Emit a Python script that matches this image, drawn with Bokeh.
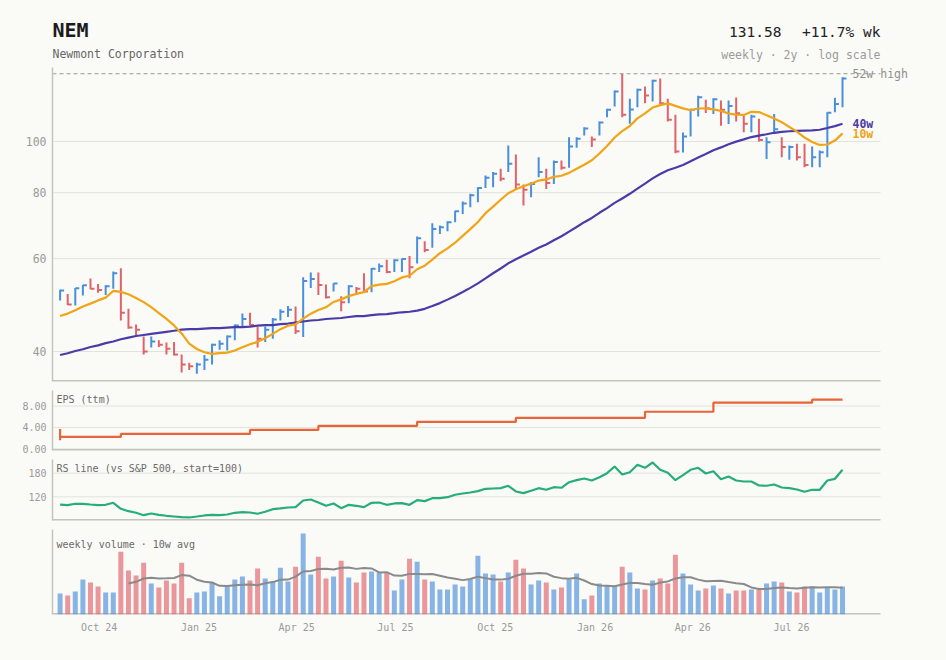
import numpy as np
import pandas as pd
from bokeh.plotting import figure
from bokeh.layouts import column
from bokeh.models import (Range1d, FixedTicker, PrintfTickFormatter, Label,
                          DatetimeTickFormatter, ColumnDataSource)
from bokeh.embed import file_html
from bokeh.resources import INLINE

# ---------------- data ----------------
ticker = "NEM"
company = "Newmont Corporation"
start_week = "2024-08-26"
n_weeks = 104

highs = [52.4, 51.4, 52.8, 53.5, 55.0, 53.7, 53.4, 56.7, 57.5, 48.2,
         45.0, 42.7, 42.7, 42.0, 41.6, 41.7, 39.5, 38.1, 38.1, 39.4,
         41.4, 42.0, 42.9, 45.0, 47.2, 47.4, 44.5, 44.6, 46.3, 48.1,
         48.8, 48.7, 55.3, 56.5, 56.5, 53.6, 53.9, 50.9, 53.4, 53.0,
         56.3, 57.6, 58.7, 59.7, 59.8, 60.0, 60.7, 66.1, 64.7, 70.0,
         69.3, 70.6, 73.9, 77.0, 79.6, 81.9, 86.2, 87.5, 88.8, 98.3,
         94.5, 82.9, 83.7, 93.4, 88.8, 92.0, 92.0, 101.9, 101.9, 106.4,
         102.2, 109.1, 115.3, 124.9, 134.4, 120.5, 125.9, 127.1, 130.9, 131.6,
         120.5, 112.4, 104.0, 115.3, 122.1, 120.0, 120.8, 119.6, 119.6, 121.2,
         111.9, 112.4, 110.4, 101.9, 112.7, 101.9, 98.3, 99.0, 99.0, 97.8,
         96.1, 113.6, 121.0, 132.4]
lows = [50.0, 49.0, 48.9, 51.1, 52.5, 51.7, 51.2, 52.6, 45.8, 44.2,
        42.9, 39.5, 40.7, 40.8, 39.5, 39.3, 36.5, 36.9, 36.3, 36.9,
        37.8, 40.3, 40.2, 42.0, 44.7, 44.8, 40.7, 41.7, 42.3, 45.8,
        46.5, 43.2, 42.6, 52.8, 51.2, 50.4, 52.0, 47.7, 49.4, 51.3,
        51.8, 51.8, 56.6, 56.3, 56.6, 56.6, 55.1, 58.7, 61.7, 62.9,
        66.8, 67.6, 70.3, 72.9, 75.1, 76.7, 81.6, 81.9, 84.1, 87.5,
        81.3, 75.6, 78.4, 85.6, 81.3, 83.1, 88.4, 89.2, 97.3, 102.7,
        97.6, 102.7, 111.2, 116.5, 111.2, 108.0, 116.1, 118.2, 119.1, 117.7,
        109.1, 95.0, 95.3, 102.2, 111.5, 113.2, 112.7, 107.1, 107.9, 109.1,
        104.1, 104.1, 100.0, 92.6, 103.7, 93.4, 92.3, 92.0, 89.4, 89.4,
        89.4, 93.4, 113.6, 116.1]
closes = [52.2, 49.1, 52.7, 53.4, 52.6, 52.3, 53.2, 56.3, 47.4, 44.4,
          44.0, 40.0, 41.8, 41.2, 40.5, 39.5, 37.8, 37.5, 37.8, 38.6,
          41.2, 41.4, 42.7, 44.8, 46.1, 44.9, 42.3, 44.0, 46.0, 47.6,
          48.0, 43.7, 54.4, 54.9, 53.5, 50.7, 53.8, 49.6, 53.2, 52.6,
          52.0, 57.4, 58.0, 56.6, 59.6, 59.9, 57.8, 65.6, 62.3, 68.3,
          68.8, 70.3, 73.8, 76.3, 79.1, 81.6, 85.4, 86.9, 85.0, 90.7,
          82.9, 81.0, 83.1, 87.5, 83.4, 91.4, 89.2, 97.8, 101.2, 105.8,
          100.9, 108.6, 114.8, 124.4, 112.4, 115.0, 125.3, 122.2, 130.3, 118.2,
          109.9, 95.7, 102.2, 114.8, 121.3, 115.6, 120.3, 114.8, 116.8, 113.1,
          108.0, 111.5, 100.7, 99.7, 105.5, 97.6, 97.6, 93.4, 90.3, 93.4,
          95.4, 113.3, 117.8, 131.58]
# 1 = up week (blue), 0 = down week (red)
up_week = [1, 0, 1, 1, 0, 0, 1, 1, 0, 0,
           0, 0, 1, 0, 0, 0, 0, 0, 1, 1,
           1, 1, 1, 1, 1, 0, 0, 1, 1, 1,
           1, 0, 1, 1, 0, 0, 1, 0, 1, 0,
           0, 1, 1, 0, 1, 1, 0, 1, 0, 1,
           1, 1, 1, 1, 1, 1, 1, 1, 0, 1,
           0, 0, 1, 1, 0, 1, 0, 1, 1, 1,
           0, 1, 1, 1, 0, 1, 1, 0, 1, 0,
           0, 0, 1, 1, 1, 0, 1, 0, 1, 0,
           0, 1, 0, 1, 1, 0, 1, 0, 0, 1,
           1, 1, 1, 1]
# moving-average values for the first weeks (window reaches before the chart)
ma10_head = [46.7, 47.2, 47.9, 48.7, 49.3, 50.0, 50.6, 52.1, 51.9]
ma40_head = [39.4, 39.7, 40.1, 40.4, 40.8, 41.1, 41.5, 41.8, 42.2, 42.5,
             42.8, 43.0, 43.2, 43.4, 43.6, 43.8, 44.0, 44.1, 44.1, 44.2,
             44.3, 44.3, 44.4, 44.5, 44.5, 44.6, 44.8, 44.9, 44.9, 45.1,
             45.2, 45.4, 45.6, 45.8, 45.9, 46.1, 46.2, 46.3, 46.5]
rs_line = [100.0, 98.7, 102.2, 102.2, 100.4, 98.7, 99.6, 104.7, 89.5, 83.4,
           79.3, 73.2, 77.5, 74.2, 71.7, 69.9, 68.1, 67.4, 69.9, 72.5,
           74.2, 73.4, 75.0, 79.3, 80.8, 80.0, 76.8, 81.8, 88.5, 90.3,
           92.8, 93.6, 110.6, 113.1, 105.5, 97.1, 103.0, 91.0, 99.6, 97.1,
           93.6, 104.7, 105.5, 99.6, 103.0, 103.8, 99.6, 111.4, 108.9, 116.4,
           116.4, 119.0, 125.1, 128.4, 130.9, 134.3, 140.3, 141.1, 141.9, 148.0,
           133.5, 129.2, 135.2, 141.9, 137.8, 144.4, 142.9, 157.1, 162.2, 166.5,
           161.4, 169.8, 180.0, 197.0, 176.7, 182.5, 201.4, 193.7, 207.2, 188.6,
           181.0, 162.2, 174.9, 188.6, 193.7, 179.2, 185.1, 164.8, 171.6, 161.4,
           158.9, 158.9, 148.7, 148.0, 151.3, 143.6, 141.9, 138.6, 132.7, 137.8,
           137.8, 161.4, 165.7, 188.6]
volume_m = [21.3, 19.3, 23.3, 35.3, 32.3, 28.3, 22.3, 22.3, 63.3, 44.3,
            39.3, 52.3, 31.3, 27.3, 34.3, 31.3, 52.3, 16.3, 22.3, 23.3,
            32.3, 18.3, 29.3, 35.3, 38.3, 34.3, 46.3, 36.3, 33.3, 47.3,
            33.3, 48.3, 81.7, 40.3, 58.3, 36.3, 38.3, 54.3, 37.3, 32.3,
            42.3, 43.3, 42.3, 42.3, 24.3, 35.3, 56.3, 53.3, 35.3, 33.3,
            25.3, 25.3, 30.3, 28.3, 35.3, 59.3, 41.3, 40.3, 33.3, 42.3,
            55.3, 46.3, 30.3, 34.3, 32.3, 25.3, 27.3, 35.3, 41.3, 15.3,
            19.3, 31.3, 29.3, 29.3, 48.3, 42.3, 26.3, 25.3, 34.3, 36.3,
            31.3, 60.3, 41.3, 30.3, 24.3, 26.3, 29.3, 26.3, 21.3, 24.3,
            24.3, 25.3, 25.3, 31.3, 33.3, 32.3, 23.3, 22.3, 28.3, 28.3,
            22.3, 27.3, 25.3, 28.3]
# trailing EPS: the first three entries are older reports pinned to the first week
eps_dates = ["2024-08-26", "2024-08-26", "2024-08-26", "2024-10-21", "2025-02-17",
             "2025-04-21", "2025-07-21", "2025-10-20", "2026-02-16", "2026-04-20",
             "2026-07-20"]
eps_values = [3.70, 1.60, 2.23, 2.80, 3.55, 4.30, 5.05, 5.80, 6.93, 8.62, 9.18]

price_ticks = [40, 60, 80, 100]
eps_ticks = [0, 4, 8]
rs_ticks = [120, 180]

# ---------------- styling ----------------
FONT = "DejaVu Sans Mono"
BG = "#fafaf7"
GRID = "#e3e3dc"
AXIS = "#c4c4ba"
TICK_TXT = "#9a9a9a"
BLUE = "#4a8fdb"
RED = "#e0636a"
ORANGE = "#f0a416"
PURPLE = "#4b3ba8"
GREEN = "#27ad7a"
EPS_C = "#e8653a"

W = 946
LEFT = 52              # page x of the panels' left edge
PANEL_R = 880          # page x where the drawn panels end
FRAME_R = 915          # frames run a little further so end labels are not clipped


def ms(ts):
    return pd.Timestamp(ts).value / 1e6


dates = pd.date_range(start_week, periods=n_weeks, freq="7D")
close_s = pd.Series(closes)
ma10 = close_s.rolling(10).mean().to_numpy()
ma10[:9] = ma10_head
ma40 = close_s.rolling(40).mean().to_numpy()
ma40[:39] = ma40_head
vol_avg = pd.Series(volume_m).rolling(10).mean().to_numpy()
high52 = max(highs[-52:])
colors = [BLUE if u else RED for u in up_week]
pct = (closes[-1] / closes[-2] - 1) * 100
quarter_ticks = [ms(t) for t in pd.date_range(dates[0], dates[-1], freq="QS")]

x_start = dates[0] - pd.Timedelta(days=7)
x_end = dates[-1] + pd.Timedelta(days=35)          # end of the drawn panels
x_frame_end = x_start + (x_end - x_start) * ((FRAME_R - LEFT) / (PANEL_R - LEFT))
xr = Range1d(start=x_start, end=x_frame_end)

src = ColumnDataSource(dict(date=dates, high=highs, low=lows, close=closes,
                            color=colors, vol=volume_m))


def style_axis(ax, size="10px"):
    ax.axis_line_color = AXIS
    ax.axis_line_width = 1.5
    ax.major_tick_line_color = None
    ax.minor_tick_line_color = None
    ax.major_tick_in = 0
    ax.major_tick_out = 0
    ax.minor_tick_in = 0
    ax.minor_tick_out = 0
    ax.major_label_text_font = FONT
    ax.major_label_text_color = TICK_TXT
    ax.major_label_text_font_size = size
    ax.major_label_standoff = 6


def base_fig(height, y_range, top, bottom, ticks, fmt, y_type="linear"):
    p = figure(width=W, height=height, x_axis_type="datetime", y_axis_type=y_type,
               x_range=xr, y_range=y_range, output_backend="svg",
               toolbar_location=None, min_border_left=LEFT,
               min_border_right=W - FRAME_R,
               min_border_top=top, min_border_bottom=bottom)
    p.background_fill_color = BG
    p.border_fill_color = BG
    p.outline_line_color = None
    p.xgrid.visible = False
    p.ygrid.visible = False
    style_axis(p.xaxis[0])
    style_axis(p.yaxis[0])
    p.yaxis.ticker = FixedTicker(ticks=ticks)
    if fmt:
        p.yaxis.formatter = PrintfTickFormatter(format=fmt)
    # horizontal grid lines and bottom rule, ending where the panel ends
    n = len(ticks)
    if n:
        p.segment(x0=[x_start] * n, x1=[x_end] * n, y0=ticks, y1=ticks,
                  line_color=GRID, line_width=1)
    lo = y_range.start
    p.segment(x0=[x_start], x1=[x_end], y0=[lo], y1=[lo], line_color=AXIS,
              line_width=3)
    p.xaxis.axis_line_color = None
    return p


def panel_label(p, text, yend, yoff):
    p.add_layout(Label(x=ms(x_start), y=yend, x_offset=4, y_offset=yoff,
                       text=text, text_font=FONT, text_font_size="10px",
                       text_color="#6a6a6a", text_baseline="top", text_align="left"))


# ---------------- header ----------------
HDR_H = 67
hdr = figure(width=W, height=HDR_H, x_range=Range1d(LEFT, FRAME_R),
             y_range=Range1d(0, HDR_H), output_backend="svg", toolbar_location=None,
             min_border_left=LEFT, min_border_right=W - FRAME_R,
             min_border_top=0, min_border_bottom=0)
hdr.axis.visible = False
hdr.grid.visible = False
hdr.outline_line_color = None
hdr.background_fill_color = BG
hdr.border_fill_color = BG
hdr.add_layout(Label(x=LEFT, y=HDR_H - 29.5, text=ticker, text_font=FONT,
                     text_font_size="20px", text_font_style="bold",
                     text_color="#1c1c1c", text_baseline="middle"))
hdr.add_layout(Label(x=LEFT, y=HDR_H - 53, text=company, text_font=FONT,
                     text_font_size="11.5px", text_color="#666666",
                     text_baseline="middle"))
hdr.add_layout(Label(x=PANEL_R - 99, y=HDR_H - 31, text=f"{closes[-1]:.2f}",
                     text_align="right", text_font=FONT, text_font_size="14.5px",
                     text_color="#222222", text_baseline="middle"))
hdr.add_layout(Label(x=PANEL_R, y=HDR_H - 31, text=f"{pct:+.1f}% wk",
                     text_align="right", text_font=FONT, text_font_size="14.5px",
                     text_color="#222222", text_baseline="middle"))
hdr.add_layout(Label(x=PANEL_R, y=HDR_H - 54, text="weekly \u00b7 2y \u00b7 log scale",
                     text_align="right", text_font=FONT, text_font_size="11.5px",
                     text_color="#9a9a9a", text_baseline="middle"))

# ---------------- price panel ----------------
p_lo, p_hi = 35.1, 138.1
p1 = base_fig(319, Range1d(p_lo, p_hi), 0, 5, price_ticks, "%d", y_type="log")
p1.xaxis.visible = False
p1.yaxis.major_label_text_font_size = "11.5px"

# 52-week high
p1.segment(x0=[x_start], x1=[x_end], y0=[high52], y1=[high52], line_color="#9a9a9a",
           line_dash="4 3", line_width=1)
p1.segment(x0="date", y0="low", x1="date", y1="high", line_color="color",
           line_width=2, source=src)
p1.ray(x="date", y="close", length=4, length_units="screen", angle=0,
       line_color="color", line_width=2, source=src)
p1.line(dates, ma40, line_color=PURPLE, line_width=2.2)
p1.line(dates, ma10, line_color=ORANGE, line_width=2.2)

last_ms = ms(dates[-1])
p1.add_layout(Label(x=last_ms, y=high52, x_offset=10, text="52w high",
                    text_font=FONT, text_font_size="11.5px", text_color="#8f8f8f",
                    text_baseline="middle"))
p1.add_layout(Label(x=last_ms, y=ma40[-1], x_offset=10, y_offset=0, text="40w",
                    text_font=FONT, text_font_size="11.5px", text_font_style="bold",
                    text_color=PURPLE, text_baseline="middle"))
p1.add_layout(Label(x=last_ms, y=ma10[-1], x_offset=10, y_offset=-1, text="10w",
                    text_font=FONT, text_font_size="11.5px", text_font_style="bold",
                    text_color=ORANGE, text_baseline="middle"))

# ---------------- EPS panel ----------------
e_lo, e_hi = -0.3, 10.9
p2 = base_fig(68, Range1d(e_lo, e_hi), 4, 4, eps_ticks, "%.2f")
p2.xaxis.visible = False
eps_x = list(pd.to_datetime(eps_dates)) + [dates[-1]]
eps_y = eps_values + [eps_values[-1]]
p2.step(eps_x, eps_y, mode="after", line_color=EPS_C, line_width=2.2)
panel_label(p2, "EPS (ttm)", e_hi, -3)

# ---------------- RS panel ----------------
r_lo, r_hi = 59.7, 214.8
p3 = base_fig(70, Range1d(r_lo, r_hi), 5, 4, rs_ticks, "%d")
p3.xaxis.visible = False
p3.line(dates, rs_line, line_color=GREEN, line_width=2.2)
panel_label(p3, "RS line (vs S&P 500, start=100)", r_hi, -3)

# ---------------- volume panel ----------------
v_hi = max(volume_m) * 1.05
p4 = base_fig(136, Range1d(0, v_hi), 5, 46, [], None)
p4.xaxis.ticker = FixedTicker(ticks=quarter_ticks)
p4.xaxis.formatter = DatetimeTickFormatter(days="%b %y", months="%b %y",
                                           years="%b %y")
p4.xaxis.major_label_standoff = 7
p4.vbar(x="date", top="vol", width=4.6 * 24 * 3600 * 1000, fill_color="color",
        line_color=None, fill_alpha=0.65, source=src)
p4.line(dates, vol_avg, line_color="#8a8a8a", line_width=2)
panel_label(p4, "weekly volume \u00b7 10w avg", v_hi, -9)

layout = column(hdr, p1, p2, p3, p4, spacing=0)
layout.styles = {"background-color": BG}

open("out.html", "w").write(file_html(layout, INLINE))
